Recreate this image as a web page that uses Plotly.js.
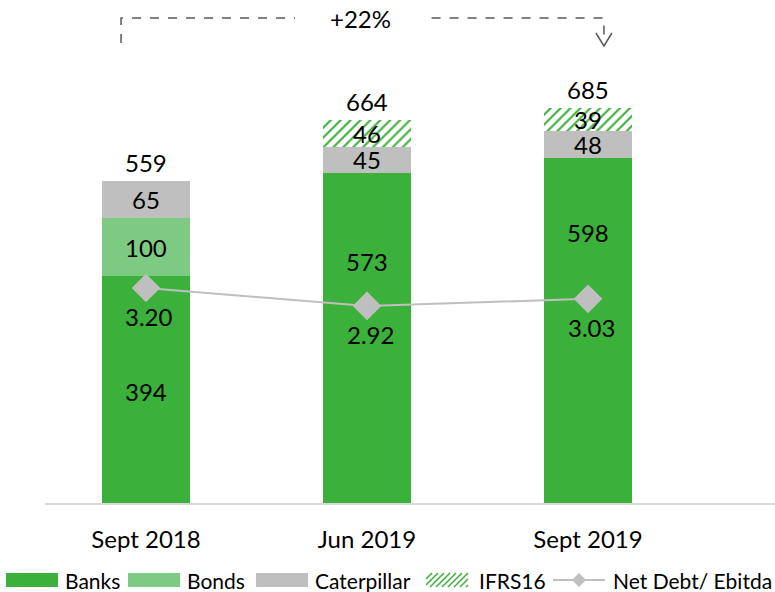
<!DOCTYPE html>
<html><head><meta charset="utf-8">
<script src="https://cdn.plot.ly/plotly-3.0.1.min.js"></script>
<style>html,body{margin:0;padding:0;background:#fff}#c{width:775px;height:592px}</style>
</head><body><div id="c"></div>
<script>
const categories = ["Sept 2018", "Jun 2019", "Sept 2019"];
const banks = [394, 573, 598];
const bonds = [100, 0, 0];
const caterpillar = [65, 45, 48];
const ifrs16 = [0, 46, 39];
const totals = [559, 664, 685];
const netDebtEbitda = [3.20, 2.92, 3.03];
const netDebtLabels = ["3.20", "2.92", "3.03"];
const growthLabel = "+22%";
const seriesNames = ["Banks", "Bonds", "Caterpillar", "IFRS16", "Net Debt/ Ebitda"];

// label placement (fraction of banks segment height)
const banksLabelFrac = [0.49, 0.73, 0.785];

const FONT = "Lato, 'Open Sans', sans-serif";
const cGreen = "#3bb03b", cBonds = "#7dca82", cGray = "#bfbfbf";

const idx = categories.map((_, i) => i);
const traces = [
  {type:"bar", name:seriesNames[0], x:idx, y:banks, marker:{color:cGreen}, hoverinfo:"skip"},
  {type:"bar", name:seriesNames[1], x:idx, y:bonds, marker:{color:cBonds}, hoverinfo:"skip"},
  {type:"bar", name:seriesNames[2], x:idx, y:caterpillar, marker:{color:cGray}, hoverinfo:"skip"},
  {type:"bar", name:seriesNames[3], x:idx, y:ifrs16, marker:{color:"#ffffff", pattern:{shape:"/", fgcolor:cGreen, bgcolor:"#ffffff", size:7, solidity:0.3, fillmode:"replace"}}, hoverinfo:"skip"},
  {type:"scatter", mode:"lines+markers", name:seriesNames[4], x:idx, y:netDebtEbitda, yaxis:"y2",
   line:{color:cGray, width:2}, marker:{symbol:"diamond", size:22, color:cGray}, hoverinfo:"skip"}
];

// plot area geometry helpers (pixel -> paper)
const L = 45, W = 730, H = 503;
const px2x = px => (px - L) / W;
const px2y = py => (H - py) / H;

const ann = [];
const segFont = {family:FONT, size:24, color:"#000"};
idx.forEach(i => {
  ann.push({x:i, y:banks[i]*banksLabelFrac[i], text:String(banks[i]), showarrow:false, font:segFont, yanchor:"middle"});
  let base = banks[i];
  [bonds, caterpillar, ifrs16].forEach(arr => {
    if (arr[i] > 0) {
      ann.push({x:i, y:base + arr[i]/2, text:String(arr[i]), showarrow:false, font:segFont, yanchor:"middle"});
    }
    base += arr[i];
  });
  ann.push({x:i, y:totals[i], text:String(totals[i]), showarrow:false, font:segFont, yanchor:"bottom", yshift:2});
  ann.push({x:i, y:netDebtEbitda[i], yref:"y2", text:netDebtLabels[i], showarrow:false, font:segFont, yanchor:"middle", yshift:-29, xshift:3});
});
ann.push({x:0.97, xref:"x", y:px2y(18), yref:"paper", text:growthLabel, showarrow:false, font:{family:FONT, size:24, color:"#000"}, yanchor:"middle"});

const ax0 = -0.113, ax1 = 2.072;
const dashLine = {color:"#595959", width:1.5, dash:"dash"};
const shapes = [
  {type:"path", xref:"x", yref:"paper", path:`M ${ax0} ${px2y(43)} L ${ax0} ${px2y(18)} L 0.674 ${px2y(18)}`, line:dashLine},
  {type:"path", xref:"x", yref:"paper", path:`M 1.292 ${px2y(18)} L ${ax1} ${px2y(18)} L ${ax1} ${px2y(42)}`, line:dashLine},
  {type:"path", xref:"x", yref:"paper", path:`M ${ax1-0.036} ${px2y(33)} L ${ax1} ${px2y(46)} L ${ax1+0.036} ${px2y(33)}`, line:{color:"#595959", width:1.5}}
];

// custom legend (wide swatches like the reference)
const legY = 580, legH = 14;
const legItems = [
  {kind:"rect", color:cGreen, x0:6, x1:58, tx:63},
  {kind:"rect", color:cBonds, x0:128, x1:180, tx:185},
  {kind:"rect", color:cGray, x0:256, x1:308, tx:313},
  {kind:"hatch", color:cGreen, x0:426, x1:468, tx:477},
  {kind:"line", color:cGray, x0:553, x1:605, tx:611}
];
const legFont = {family:FONT, size:21, color:"#000"};
legItems.forEach((it, k) => {
  if (it.kind === "rect") {
    shapes.push({type:"rect", xref:"paper", yref:"paper", x0:px2x(it.x0), x1:px2x(it.x1), y0:px2y(legY+legH/2), y1:px2y(legY-legH/2), fillcolor:it.color, line:{width:0}});
  } else if (it.kind === "hatch") {
    let p = "";
    for (let s = it.x0 - legH; s < it.x1; s += 6) {
      let xa = s, ya = legY + legH/2, xb = s + legH, yb = legY - legH/2;
      if (xa < it.x0) { ya -= (it.x0 - xa); xa = it.x0; }
      if (xb > it.x1) { yb += (xb - it.x1); xb = it.x1; }
      if (xb <= xa) continue;
      p += `M ${px2x(xa)} ${px2y(ya)} L ${px2x(xb)} ${px2y(yb)} `;
    }
    shapes.push({type:"path", xref:"paper", yref:"paper", path:p, line:{color:it.color, width:1.5}});
  } else {
    shapes.push({type:"line", xref:"paper", yref:"paper", x0:px2x(it.x0), x1:px2x(it.x1), y0:px2y(legY), y1:px2y(legY), line:{color:it.color, width:2}});
    const cx = (it.x0 + it.x1)/2, r = 7;
    shapes.push({type:"path", xref:"paper", yref:"paper", path:`M ${px2x(cx-r)} ${px2y(legY)} L ${px2x(cx)} ${px2y(legY-r)} L ${px2x(cx+r)} ${px2y(legY)} L ${px2x(cx)} ${px2y(legY+r)} Z`, fillcolor:it.color, line:{width:0}});
  }
  ann.push({x:px2x(it.tx), xref:"paper", y:px2y(legY), yref:"paper", text:seriesNames[k], showarrow:false, font:legFont, xanchor:"left", yanchor:"middle"});
});

const layout = {
  width:775, height:592,
  margin:{l:L, r:0, t:0, b:89, autoexpand:false},
  paper_bgcolor:"#fff", plot_bgcolor:"#fff",
  barmode:"stack", bargap:0.6,
  font:{family:FONT, color:"#000"},
  xaxis:{range:[-0.457, 2.846], tickmode:"array", tickvals:idx, ticktext:categories, showgrid:false, zeroline:false,
         showline:true, linecolor:"#d9d9d9", linewidth:1.5, ticks:"", ticklabelstandoff:15, tickfont:{family:FONT, size:24, color:"#000"}, fixedrange:true},
  yaxis:{range:[0, 872.5], visible:false, fixedrange:true},
  yaxis2:{range:[-0.16, 7.7], overlaying:"y", visible:false, fixedrange:true},
  showlegend:false,
  annotations:ann,
  shapes:shapes
};
Plotly.newPlot("c", traces, layout, {displayModeBar:false, staticPlot:true});
</script></body></html>
